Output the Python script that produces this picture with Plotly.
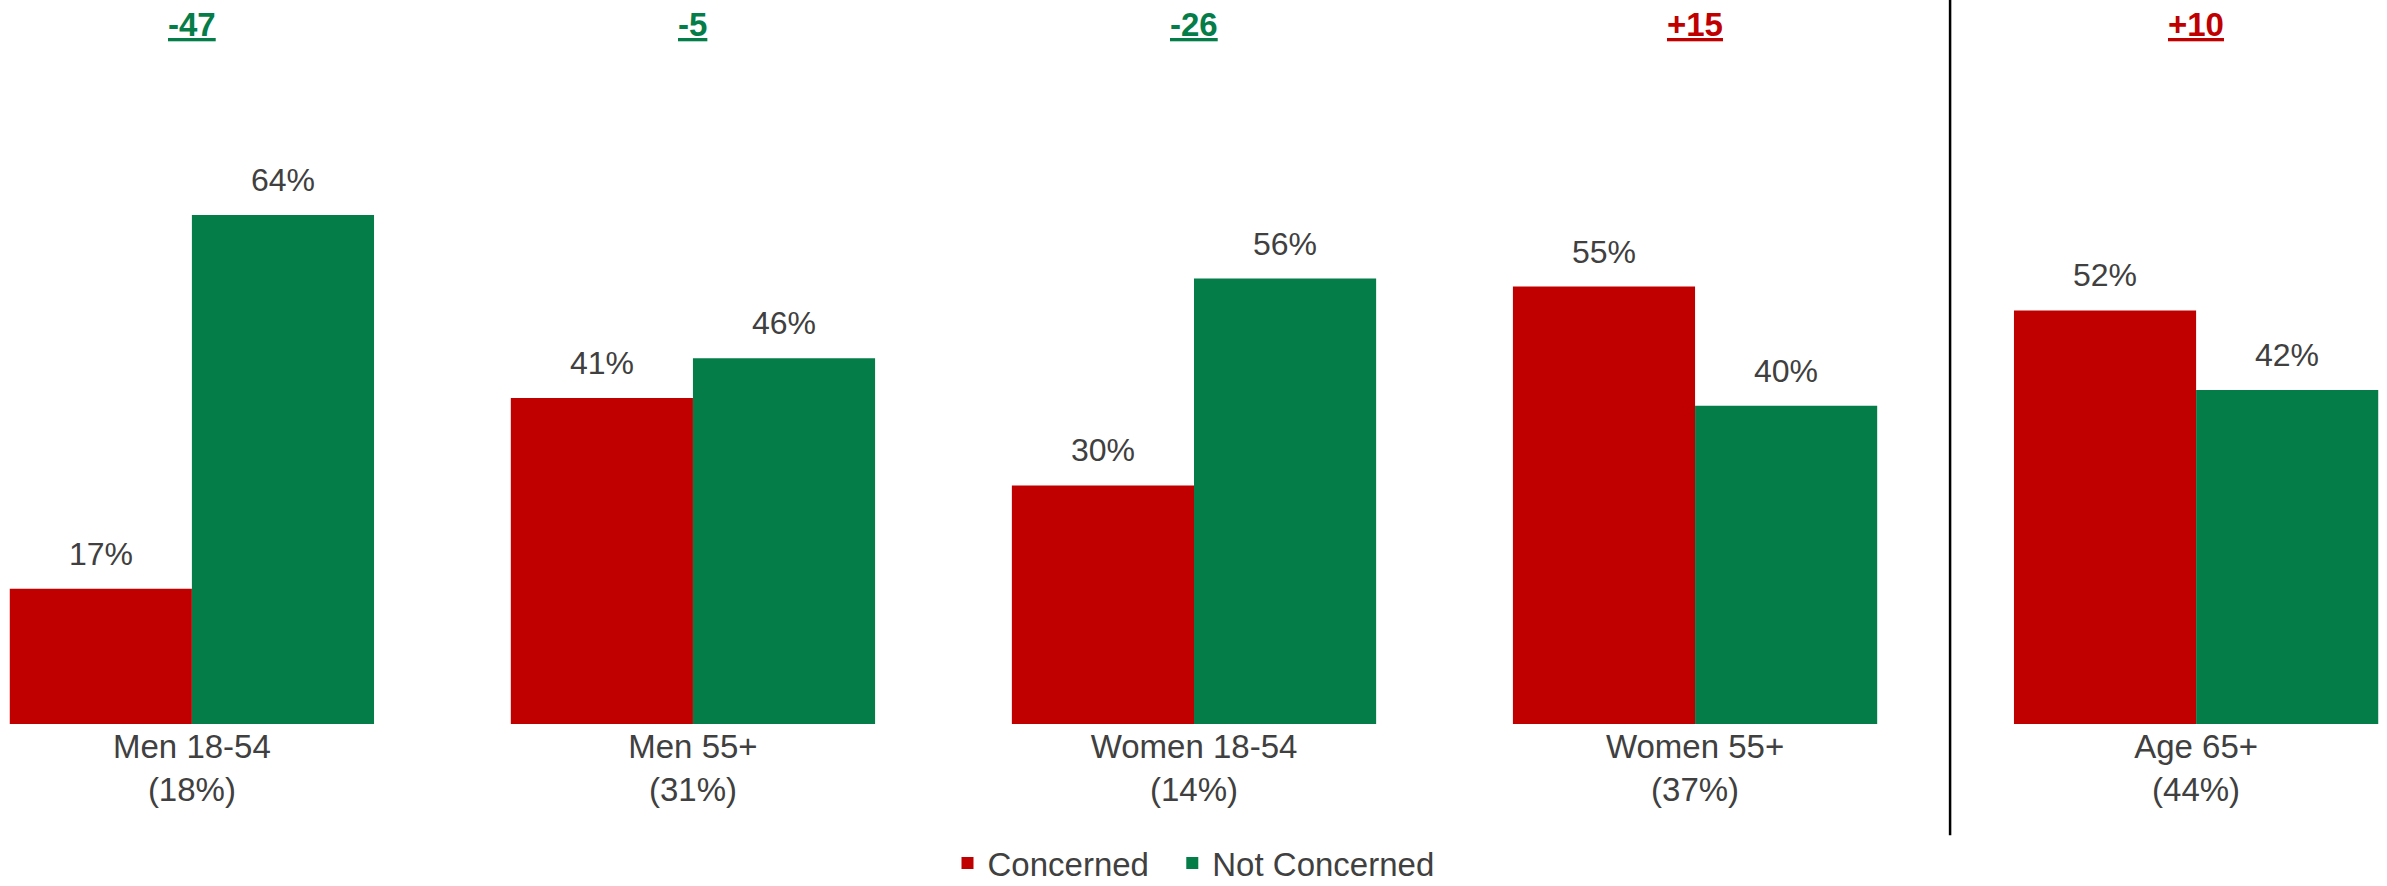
import plotly.graph_objects as go

# DATA
categories = ["Men 18-54", "Men 55+", "Women 18-54", "Women 55+", "Age 65+"]
shares = ["(18%)", "(31%)", "(14%)", "(37%)", "(44%)"]
concerned = [17, 41, 30, 55, 52]
not_concerned = [64, 46, 56, 40, 42]
net = ["-47", "-5", "-26", "+15", "+10"]

RED = "#C00000"
GREEN = "#047D48"
GREY = "#404040"
FONT = "Liberation Sans, Arial, sans-serif"

fig = go.Figure()
# non-breaking spaces widen the gap between the two legend entries
fig.add_trace(go.Bar(x=categories, y=concerned, name="Concerned\u00a0\u00a0",
                     marker=dict(color=RED, line=dict(width=0))))
fig.add_trace(go.Bar(x=categories, y=not_concerned, name="Not Concerned",
                     marker=dict(color=GREEN, line=dict(width=0))))

# value labels above each bar
for c, v1, v2 in zip(categories, concerned, not_concerned):
    for v, dx in ((v1, -91), (v2, 91)):
        fig.add_annotation(x=c, y=v, text=f"{v}%", showarrow=False,
                           xshift=dx, yshift=15, yanchor="bottom",
                           font=dict(family=FONT, size=32, color=GREY))

# net difference on top
for c, n in zip(categories, net):
    col = GREEN if n.startswith("-") else RED
    fig.add_annotation(x=c, y=0.966, yref="paper", text=f"<u><b>{n}</b></u>",
                       showarrow=False, yanchor="middle",
                       font=dict(family=FONT, size=33, color=col))

# divider before the last group
fig.add_shape(type="line", x0=3.509, x1=3.509, xref="x", y0=-0.1535, y1=1,
              yref="paper", line=dict(color="black", width=2.5))

fig.update_layout(
    width=2387, height=886,
    barmode="group", bargap=0.273, bargroupgap=0,
    plot_bgcolor="white", paper_bgcolor="white",
    margin=dict(l=0, r=0, t=0, b=162, autoexpand=False),
    font=dict(family=FONT, size=32, color=GREY),
    legend=dict(orientation="h", x=0.5, xanchor="center", y=-0.2307,
                yanchor="bottom", font=dict(size=33, color=GREY),
                borderwidth=0, traceorder="normal"),
)
fig.update_xaxes(tickvals=categories,
                 ticktext=[f"{c}<br>{s}" for c, s in zip(categories, shares)],
                 range=[-0.383, 4.381], showline=False, ticks="",
                 tickfont=dict(size=33, color=GREY))
fig.update_yaxes(range=[0, 91.03], visible=False, showgrid=False)

fig.write_html("out.html", config={"displayModeBar": False},
               post_script="document.body.style.margin='0';")
